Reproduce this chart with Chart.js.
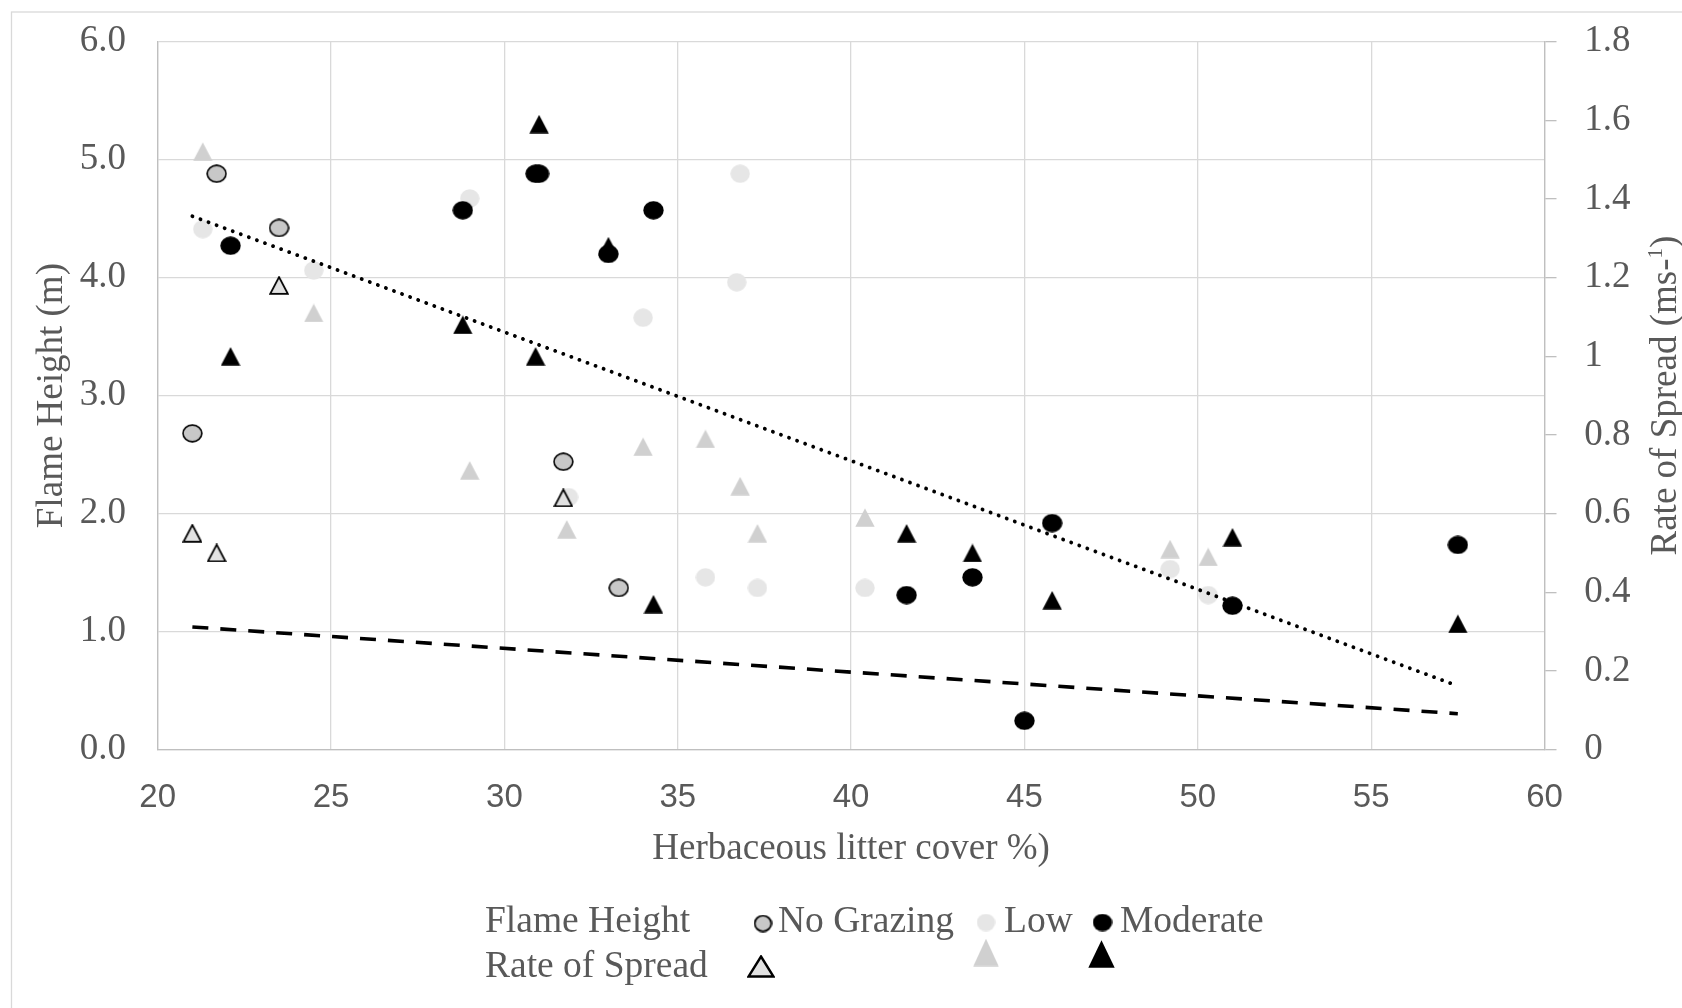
<!DOCTYPE html>
<html><head><meta charset="utf-8">
<script src="https://cdn.jsdelivr.net/npm/chart.js@4.4.0/dist/chart.umd.min.js"></script>
<style>html,body{margin:0;padding:0;background:#fff;} #wrap{width:1682px;height:1008px;position:relative;}</style>
</head><body><div id="wrap"><canvas id="c" width="1682" height="1008"></canvas></div>
<script>
// ---- tick labels / names ----
const xTickLabels = ['20','25','30','35','40','45','50','55','60'];
const leftTickLabels = ['0.0','1.0','2.0','3.0','4.0','5.0','6.0'];
const rightTickLabels = ['0','0.2','0.4','0.6','0.8','1','1.2','1.4','1.6','1.8'];
const groups = ['No Grazing','Low','Moderate'];
const legendRows = ['Flame Height','Rate of Spread'];
const xTitle = 'Herbaceous litter cover %)';
const yTitle = 'Flame Height (m)';
const y2TitleMain = 'Rate of Spread (ms-';
const y2TitleSup = '1';
const y2TitleEnd = ')';

// ---- Flame height (left axis, m) ----
const ngFH_x  = [21.0, 21.7, 23.5, 31.7, 33.3];
const ngFH_y  = [2.68, 4.88, 4.42, 2.44, 1.37];
const lowFH_x = [21.3, 24.5, 29.0, 31.85, 34.0, 35.8, 36.7, 36.8, 37.3, 40.4, 49.2, 50.3];
const lowFH_y = [4.41, 4.06, 4.67, 2.14, 3.66, 1.46, 3.96, 4.88, 1.37, 1.37, 1.53, 1.31];
const modFH_x = [22.1, 28.8, 30.9, 31.0, 33.0, 34.3, 41.6, 43.5, 45.0, 45.8, 51.0, 57.5];
const modFH_y = [4.27, 4.57, 4.88, 4.88, 4.20, 4.57, 1.31, 1.46, 0.245, 1.92, 1.22, 1.735];

// ---- Rate of spread (right axis, m/s) ----
const ngRoS_x  = [21.0, 21.7, 23.5, 31.7];
const ngRoS_y  = [0.55, 0.50, 1.18, 0.64];
const lowRoS_x = [21.3, 24.5, 29.0, 31.8, 34.0, 35.8, 36.8, 37.3, 40.4, 49.2, 50.3];
const lowRoS_y = [1.52, 1.11, 0.71, 0.56, 0.77, 0.79, 0.67, 0.55, 0.59, 0.51, 0.49];
const modRoS_x = [22.1, 28.8, 30.9, 31.0, 33.0, 34.3, 41.6, 43.5, 45.8, 51.0, 57.5];
const modRoS_y = [1.00, 1.08, 1.00, 1.59, 1.28, 0.37, 0.55, 0.50, 0.38, 0.54, 0.32];

// ---- trend lines (left axis units) ----
const trendDot_x  = [21.0, 57.5];
const trendDot_y  = [4.52, 0.54];
const trendDash_x = [21.0, 57.5];
const trendDash_y = [1.04, 0.305];

const SERIF = '"Liberation Serif", "Times New Roman", serif';
const SANS = '"Liberation Sans", Arial, sans-serif';
const TXT = '#595959';

function ellipseMarker(w, h, fill, stroke, lw) {
  const c = document.createElement('canvas'); c.width = w; c.height = h;
  const g = c.getContext('2d');
  const l = lw || 0;
  g.beginPath();
  g.ellipse(w/2, h/2, w/2 - l/2 - 0.3, h/2 - l/2 - 0.3, 0, 0, Math.PI*2);
  g.fillStyle = fill; g.fill();
  if (stroke) { g.lineWidth = l; g.strokeStyle = stroke; g.stroke(); }
  return c;
}
function triMarker(w, h, fill, stroke, lw) {
  const c = document.createElement('canvas'); c.width = w; c.height = h;
  const g = c.getContext('2d');
  const l = lw || 0;
  g.beginPath();
  g.moveTo(w/2, l/2 + 0.3);
  g.lineTo(w - l/2 - 0.3, h - l/2 - 0.3);
  g.lineTo(l/2 + 0.3, h - l/2 - 0.3);
  g.closePath();
  g.fillStyle = fill; g.fill();
  if (stroke) { g.lineWidth = l; g.lineJoin = 'miter'; g.strokeStyle = stroke; g.stroke(); }
  return c;
}

const mNGc  = ellipseMarker(21, 19, '#c8c8c8', '#000', 1.6);
const mLowc = ellipseMarker(20, 19, '#e6e6e6');
const mModc = ellipseMarker(21, 19, '#000');
const mNGt  = triMarker(20, 19, '#e2e2e2', '#000', 1.8);
const mLowt = triMarker(20, 19, '#d0d0d0');
const mModt = triMarker(20, 19, '#000');

const lNGc  = ellipseMarker(19, 18, '#c8c8c8', '#000', 1.8);
const lLowc = ellipseMarker(19, 18, '#e6e6e6');
const lModc = ellipseMarker(20, 18, '#000');
const lNGt  = triMarker(28, 23, '#e2e2e2', '#000', 2.4);
const lLowt = triMarker(26, 28, '#d0d0d0');
const lModt = triMarker(27, 28, '#000');

function pts(xs, ys) { return xs.map((x, i) => ({x: x, y: ys[i]})); }
function scat(label, xs, ys, axis, marker) {
  return {label: label, data: pts(xs, ys), yAxisID: axis, pointStyle: marker, pointRadius: 10, showLine: false};
}

const decor = {
  id: 'decor',
  beforeDraw(chart) {
    const ctx = chart.ctx;
    ctx.save();
    ctx.strokeStyle = '#d9d9d9'; ctx.lineWidth = 1.3;
    ctx.strokeRect(11.5, 12, 1800, 1200);
    ctx.restore();
  },
  afterDraw(chart) {
    const ctx = chart.ctx;
    const area = chart.chartArea;
    ctx.save();
    ctx.fillStyle = TXT;
    ctx.textBaseline = 'alphabetic';
    ctx.textAlign = 'left';
    const fMain = '37px ' + SERIF, fSup = '21px ' + SERIF;
    ctx.font = fMain;
    const w1 = ctx.measureText(y2TitleMain).width;
    const w3 = ctx.measureText(y2TitleEnd).width;
    ctx.font = fSup;
    const w2 = ctx.measureText(y2TitleSup).width;
    const tot = w1 + w2 + w3;
    ctx.translate(1676, (area.top + area.bottom) / 2);
    ctx.rotate(-Math.PI / 2);
    let sx = -tot / 2;
    ctx.font = fMain; ctx.fillText(y2TitleMain, sx, 0); sx += w1;
    ctx.font = fSup; ctx.fillText(y2TitleSup, sx, -14); sx += w2;
    ctx.font = fMain; ctx.fillText(y2TitleEnd, sx, 0);
    ctx.restore();

    ctx.save();
    ctx.fillStyle = TXT;
    ctx.font = '37.5px ' + SERIF;
    ctx.textBaseline = 'alphabetic';
    ctx.textAlign = 'left';
    ctx.fillText(legendRows[0], 485, 932);
    ctx.fillText(legendRows[1], 485, 977);
    const put = (m, cx, cy) => ctx.drawImage(m, cx - m.width / 2, cy - m.height / 2);
    put(lNGc, 763, 923.5);
    ctx.fillText(groups[0], 778, 932);
    put(lLowc, 986, 922.5);
    ctx.fillText(groups[1], 1004, 932);
    put(lModc, 1102.5, 922.5);
    ctx.fillText(groups[2], 1120, 932);
    put(lNGt, 761, 966.5);
    put(lLowt, 986, 952.5);
    put(lModt, 1101.5, 954);
    ctx.restore();
  }
};

const noPadY = (w) => (s) => { s.width = w; s.paddingTop = 0; s.paddingBottom = 0; };

new Chart(document.getElementById('c'), {
  type: 'scatter',
  data: {
    datasets: [
      {label: 'FH trend', data: pts(trendDot_x, trendDot_y), yAxisID: 'y', showLine: true,
       borderColor: '#000', borderWidth: 3.8, borderDash: [0.1, 8.5], borderCapStyle: 'round',
       pointRadius: 0, fill: false},
      {label: 'RoS trend', data: pts(trendDash_x, trendDash_y), yAxisID: 'y', showLine: true,
       borderColor: '#000', borderWidth: 3.6, borderDash: [16, 12], borderCapStyle: 'butt',
       pointRadius: 0, fill: false},
      scat('Moderate FH', modFH_x, modFH_y, 'y', mModc),
      scat('Moderate RoS', modRoS_x, modRoS_y, 'y2', mModt),
      scat('No Grazing FH', ngFH_x, ngFH_y, 'y', mNGc),
      scat('No Grazing RoS', ngRoS_x, ngRoS_y, 'y2', mNGt),
      scat('Low RoS', lowRoS_x, lowRoS_y, 'y2', mLowt),
      scat('Low FH', lowFH_x, lowFH_y, 'y', mLowc)
    ]
  },
  options: {
    responsive: false,
    animation: false,
    events: [],
    layout: {autoPadding: false, padding: {top: 41.5, left: 0, right: 0, bottom: 128.3}},
    plugins: {legend: {display: false}, tooltip: {enabled: false}},
    scales: {
      x: {
        type: 'linear', position: 'bottom', min: 20, max: 60,
        ticks: {stepSize: 5, autoSkip: false, maxRotation: 0, padding: 28, color: TXT,
                font: {family: SANS, size: 33}, callback: (v, i) => xTickLabels[i]},
        grid: {color: '#d9d9d9', lineWidth: 1.3, drawTicks: false},
        border: {display: true, color: '#bfbfbf', width: 1.3},
        title: {display: true, text: xTitle, color: TXT,
                font: {family: SERIF, size: 37, lineHeight: 1}, padding: {top: 0, bottom: 11.5}},
        afterFit: (s) => { s.height = 130; s.paddingLeft = 0; s.paddingRight = 0; }
      },
      y: {
        type: 'linear', position: 'left', min: 0, max: 6,
        ticks: {stepSize: 1, padding: 31.7, color: TXT, font: {family: SERIF, size: 37},
                callback: (v, i) => leftTickLabels[i]},
        grid: {color: '#d9d9d9', lineWidth: 1.3, drawTicks: false},
        border: {display: true, color: '#bfbfbf', width: 1.3},
        title: {display: true, text: yTitle, color: TXT,
                font: {family: SERIF, size: 37, lineHeight: 1}, padding: {top: 33.3, bottom: 0}},
        afterFit: noPadY(157.7)
      },
      y2: {
        type: 'linear', position: 'right', min: 0, max: 1.8,
        ticks: {stepSize: 0.2, padding: 27.8, color: TXT, font: {family: SERIF, size: 37},
                callback: (v, i) => rightTickLabels[i]},
        grid: {drawOnChartArea: false, drawTicks: true, tickLength: 12, color: '#bfbfbf', lineWidth: 1.3},
        border: {display: true, color: '#bfbfbf', width: 1.3},
        afterFit: noPadY(137.5)
      }
    }
  },
  plugins: [decor]
});
</script>
</body></html>
